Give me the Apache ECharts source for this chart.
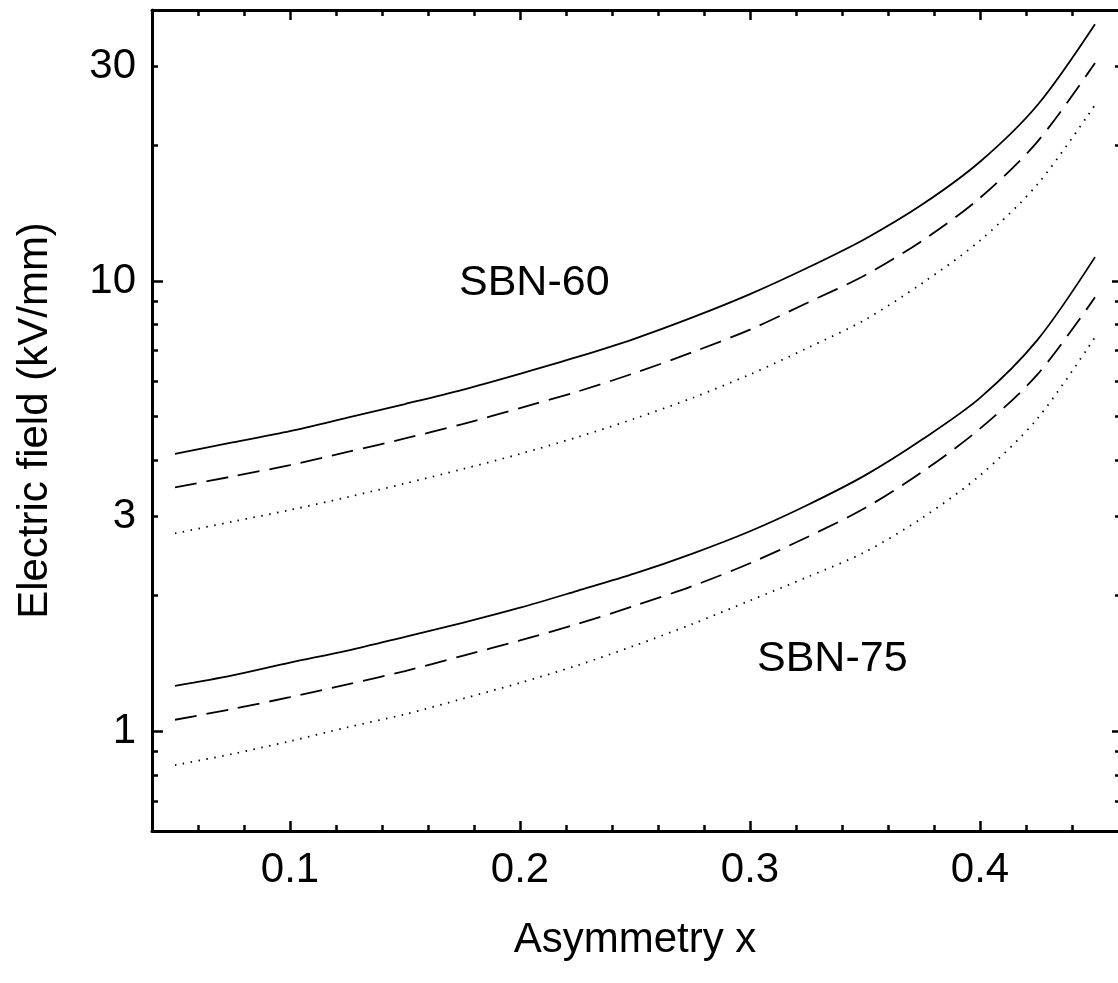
<!DOCTYPE html>
<html>
<head>
<meta charset="utf-8">
<script src="https://cdn.jsdelivr.net/npm/echarts@6/dist/echarts.min.js"></script>
<style>
  html, body { margin: 0; padding: 0; background: #fff; }
  #chart { width: 1118px; height: 983px; }
</style>
</head>
<body>
<div id="chart"></div>
<script>
// asymmetry values (x)
const asym = [0.05, 0.075, 0.1, 0.125, 0.15, 0.175, 0.2, 0.225, 0.25, 0.275, 0.3, 0.325, 0.35, 0.375, 0.4, 0.425, 0.45]

// electric field, kV/mm
const sbn60Solid  = [4.13, 4.38, 4.64, 4.97, 5.33, 5.73, 6.22, 6.78, 7.45, 8.30, 9.35, 10.7, 12.4, 14.8, 18.4, 24.6, 37.2]
const sbn60Dashed = [3.48, 3.68, 3.90, 4.17, 4.47, 4.81, 5.22, 5.68, 6.25, 6.95, 7.80, 8.95, 10.3, 12.3, 15.3, 20.4, 30.5]
const sbn60Dotted = [2.75, 2.92, 3.10, 3.31, 3.55, 3.82, 4.13, 4.50, 4.95, 5.50, 6.20, 7.10, 8.20, 9.90, 12.3, 16.4, 24.6]
const sbn75Solid  = [1.26, 1.33, 1.42, 1.51, 1.62, 1.74, 1.88, 2.05, 2.24, 2.48, 2.78, 3.18, 3.70, 4.45, 5.50, 7.40, 11.3]
const sbn75Dashed = [1.06, 1.12, 1.19, 1.27, 1.36, 1.47, 1.59, 1.73, 1.90, 2.10, 2.36, 2.70, 3.13, 3.77, 4.70, 6.20, 9.20]
const sbn75Dotted = [0.84, 0.89, 0.95, 1.02, 1.09, 1.18, 1.28, 1.40, 1.55, 1.73, 1.95, 2.20, 2.50, 2.98, 3.70, 4.95, 7.50]

// ticks
const xMajor = [0.1, 0.2, 0.3, 0.4]
const xMinor = [0.06, 0.08, 0.12, 0.14, 0.16, 0.18, 0.22, 0.24, 0.26, 0.28, 0.32, 0.34, 0.36, 0.38, 0.42, 0.44]
const yLabels = [1, 3, 10, 30]
const yMajor = [1, 10]
const yMinor = [0.7, 0.8, 0.9, 2, 3, 4, 5, 6, 7, 8, 9, 20, 30]

const font = 'Liberation Sans, Arial, sans-serif'

function pairs(ys) {
  return asym.map((x, i) => [x, ys[i]])
}

function xAx(pos, ticks, len, showLine, showLabel) {
  return {
    type: 'value', position: pos, min: 0.04, max: 0.46,
    splitLine: { show: false },
    axisLine: { show: showLine, onZero: false, lineStyle: { color: '#000', width: 3 } },
    axisTick: { show: true, inside: true, length: len, customValues: ticks, lineStyle: { color: '#000', width: 2.5 } },
    axisLabel: {
      show: showLabel, customValues: xMajor, margin: 18,
      color: '#000', fontSize: 42, fontFamily: font,
      formatter: v => String(v)
    }
  }
}

function yAx(pos, ticks, len, showLine, showLabel) {
  return {
    type: 'log', logBase: 10, position: pos, min: 0.6, max: 40,
    splitLine: { show: false },
    axisLine: { show: showLine, lineStyle: { color: '#000', width: 3 } },
    axisTick: { show: true, inside: true, length: len, customValues: ticks, lineStyle: { color: '#000', width: 2.5 } },
    axisLabel: {
      show: showLabel, customValues: yLabels, margin: 16,
      color: '#000', fontSize: 42, fontFamily: font,
      formatter: v => String(v)
    }
  }
}

function line(ys, type) {
  return {
    type: 'line', data: pairs(ys), smooth: 0.3, symbol: 'none',
    xAxisIndex: 0, yAxisIndex: 0,
    lineStyle: { color: '#000', width: 1.8, type: type }
  }
}

const chart = echarts.init(document.getElementById('chart'))

const xMain = xAx('bottom', xMajor, 10, true, true)
xMain.name = 'Asymmetry x'
xMain.nameLocation = 'middle'
xMain.nameGap = 88
xMain.nameTextStyle = { color: '#000', fontSize: 42, fontFamily: font }

const yMain = yAx('left', yMajor, 11, true, true)
yMain.name = 'Electric field (kV/mm)'
yMain.nameLocation = 'middle'
yMain.nameGap = 96
yMain.nameTextStyle = { color: '#000', fontSize: 42, fontFamily: font }

chart.setOption({
  animation: false,
  backgroundColor: '#fff',
  grid: { left: 152, top: 10, width: 966, height: 821, containLabel: false },
  xAxis: [
    xMain,
    xAx('bottom', xMinor, 6, false, false),
    xAx('top', xMajor, 10, true, false),
    xAx('top', xMinor, 6, false, false)
  ],
  yAxis: [
    yMain,
    yAx('left', yMinor, 6, false, false),
    yAx('right', yMajor, 6, false, false),
    yAx('right', yMinor, 3, false, false)
  ],
  graphic: [
    { type: 'text', left: 459, top: 262, style: { text: 'SBN-60', fill: '#000', fontSize: 43, fontFamily: font } },
    { type: 'text', left: 757, top: 638, style: { text: 'SBN-75', fill: '#000', fontSize: 43, fontFamily: font } }
  ],
  series: [
    line(sbn60Solid, 'solid'),
    line(sbn60Dashed, [22, 10]),
    line(sbn60Dotted, [1.5, 6.5]),
    line(sbn75Solid, 'solid'),
    line(sbn75Dashed, [22, 10]),
    line(sbn75Dotted, [1.5, 6.5])
  ]
})
</script>
</body>
</html>
